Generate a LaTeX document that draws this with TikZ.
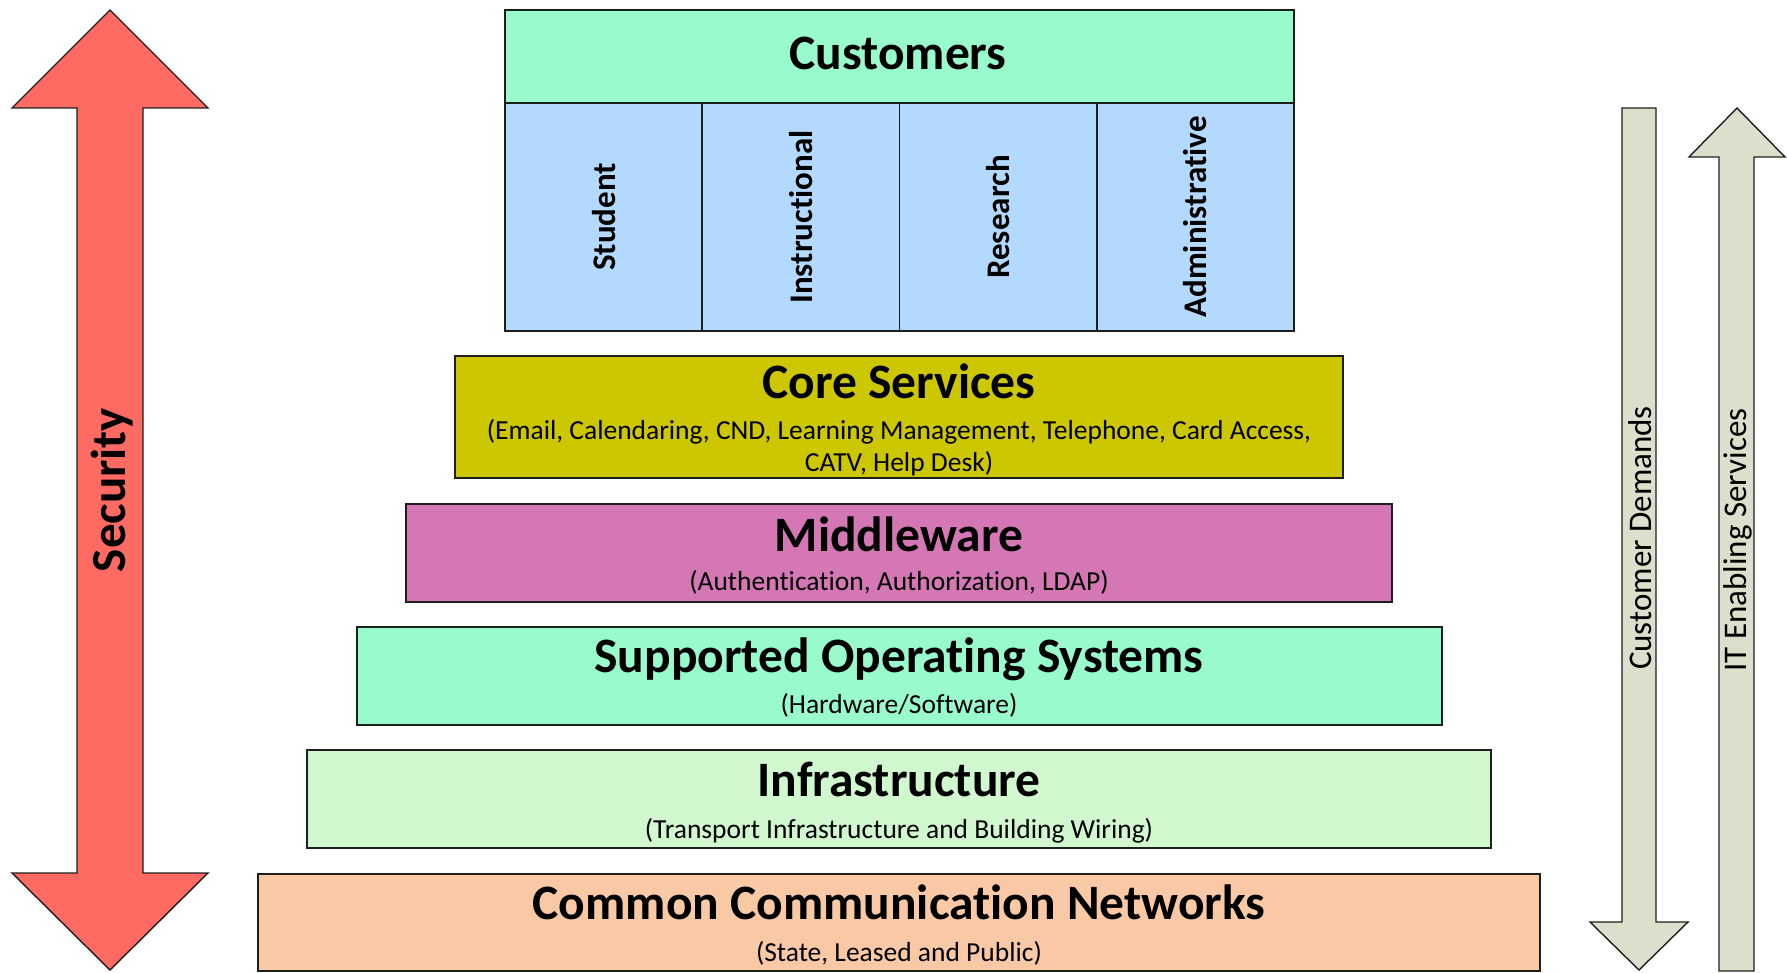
\documentclass[tikz,border=0pt]{standalone}
\usepackage{fontspec}
\setmainfont[Ligatures=NoCommon]{Carlito}
\definecolor{mint}{RGB}{153,250,203}
\definecolor{colblue}{RGB}{179,218,254}
\definecolor{corecol}{RGB}{204,199,0}
\definecolor{midcol}{RGB}{214,119,181}
\definecolor{infracol}{RGB}{208,247,206}
\definecolor{commoncol}{RGB}{248,201,164}
\definecolor{secred}{RGB}{255,106,98}
\definecolor{sage}{RGB}{218,224,203}
\definecolor{edge}{RGB}{30,30,30}
\tikzset{
  layerbox/.style={draw=edge, line width=1.8pt, anchor=north west, inner sep=0pt, outer sep=0pt},
  bigarrow/.style={draw=edge, line width=1.4pt, line join=miter},
  titletext/.style={font=\fontsize{49.5}{54}\selectfont\bfseries, anchor=base, inner sep=0pt},
  subtext/.style={font=\fontsize{27.5}{32}\selectfont, anchor=base, inner sep=0pt},
  collabel/.style={font=\fontsize{33}{37}\selectfont\bfseries, rotate=90, inner sep=0pt},
  sidelabel/.style={font=\fontsize{33}{37}\selectfont, rotate=90, inner sep=0pt},
}
\begin{document}
\begin{tikzpicture}[x=1pt,y=1pt]
\useasboundingbox (0,0) rectangle (1787,-973);

% Security double arrow
\draw[bigarrow, fill=secred] (110,-10) -- (208,-108) -- (143,-108) -- (143,-873) -- (208,-873)
  -- (110,-970) -- (12,-873) -- (77,-873) -- (77,-108) -- (12,-108) -- cycle;
\node[font=\fontsize{49}{53}\selectfont\bfseries, rotate=90, inner sep=0pt] (sec) at (112,-490) {Security};

% Customer Demands (down arrow)
\draw[bigarrow, fill=sage] (1622,-108) -- (1656,-108) -- (1656,-922) -- (1688,-922) -- (1639,-970)
  -- (1590,-922) -- (1622,-922) -- cycle;
\node[sidelabel] (cd) at (1640,-538) {Customer Demands};

% IT Enabling Services (up arrow)
\draw[bigarrow, fill=sage] (1737,-108) -- (1785,-157) -- (1754,-157) -- (1754,-971) -- (1719,-971)
  -- (1719,-157) -- (1689,-157) -- cycle;
\node[sidelabel] (its) at (1738,-540) {IT Enabling Services};

% Customers
\node[layerbox, fill=mint, minimum width=789, minimum height=93] (cust) at (505,-10) {};
\node[titletext] (custt) at (898,-70) {Customers};
\node[layerbox, fill=colblue, minimum width=197.25, minimum height=228] (stu) at (505,-103) {};
\node[layerbox, fill=colblue, minimum width=197.25, minimum height=228] (ins) at (702.25,-103) {};
\node[layerbox, fill=colblue, minimum width=197.25, minimum height=228] (res) at (899.5,-103) {};
\node[layerbox, fill=colblue, minimum width=197.25, minimum height=228] (adm) at (1096.75,-103) {};
\node[collabel] (stut) at (stu.center) {Student};
\node[collabel] (inst) at (ins.center) {Instructional};
\node[collabel] (rest) at (res.center) {Research};
\node[collabel] (admt) at (adm.center) {Administrative};

% Core Services
\node[layerbox, fill=corecol, minimum width=888, minimum height=122] (core) at (455,-356) {};
\node[titletext] (coret) at (899,-398) {Core Services};
\node[subtext] (cores1) at (899,-439) {(Email, Calendaring, CND, Learning Management, Telephone, Card Access,};
\node[subtext] (cores2) at (899,-471) {CATV, Help Desk)};

% Middleware
\node[layerbox, fill=midcol, minimum width=986, minimum height=98] (mid) at (406,-504) {};
\node[titletext] (midt) at (899,-551) {Middleware};
\node[subtext] (mids) at (899,-590) {(Authentication, Authorization, LDAP)};

% Supported Operating Systems
\node[layerbox, fill=mint, minimum width=1085, minimum height=98] (os) at (357,-627) {};
\node[titletext] (ost) at (899,-672) {Supported Operating Systems};
\node[subtext] (oss) at (899,-713) {(Hardware/Software)};

% Infrastructure
\node[layerbox, fill=infracol, minimum width=1184, minimum height=98] (inf) at (307,-750) {};
\node[titletext] (inft) at (899,-796) {Infrastructure};
\node[subtext] (infs) at (899,-838) {(Transport Infrastructure and Building Wiring)};

% Common Communication Networks
\node[layerbox, fill=commoncol, minimum width=1282, minimum height=97] (com) at (258,-874) {};
\node[titletext] (comt) at (899,-919) {Common Communication Networks};
\node[subtext] (coms) at (899,-961) {(State, Leased and Public)};
\end{tikzpicture}
\end{document}
